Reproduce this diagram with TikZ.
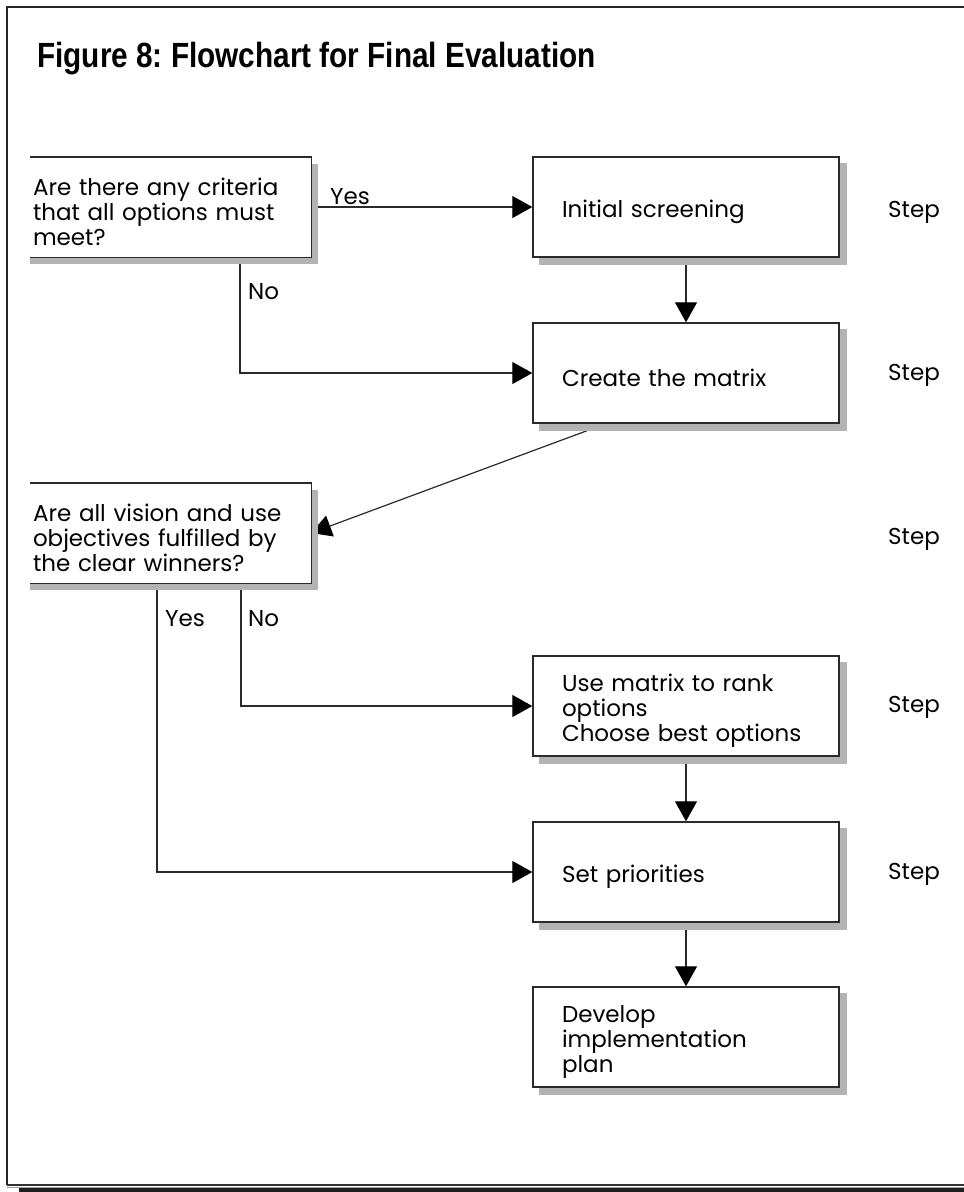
\documentclass[tikz,border=0pt]{standalone}
\usepackage{fontspec}
\setmainfont{Poppins}
\newfontfamily\titlefont[FakeStretch=0.85]{Liberation Sans}
\usetikzlibrary{arrows.meta}
\pgfdeclarelayer{bg}
\pgfdeclarelayer{shd}
\pgfsetlayers{bg,shd,main}
\definecolor{shadowgray}{HTML}{B3B3B3}
\definecolor{linegray}{HTML}{2A2A2A}
\tikzset{
  boxstyle/.style={rectangle, fill=white, draw=linegray, line width=1.4pt,
    minimum width=306pt, minimum height=100pt, inner xsep=29pt, inner ysep=0pt,
    text width=248pt, align=left, font=\fontsize{23}{25}\selectfont,
    execute at begin node={\rule{0pt}{27pt}}},
  cutbox/.style={rectangle, fill=white, draw=none,
    minimum width=281pt, minimum height=100pt, inner xsep=3pt, inner ysep=0pt,
    text width=275pt, align=left, font=\fontsize{23}{25}\selectfont,
    execute at begin node={\rule{0pt}{27pt}}},
  conn/.style={draw=linegray, line width=1.2pt},
  arr/.style={conn, -{Triangle[length=20pt,width=22pt,color=black]}},
  lbl/.style={font=\fontsize{23}{25}\selectfont, inner sep=0pt},
  steplbl/.style={font=\fontsize{23}{25}\selectfont, inner sep=0pt, anchor=west},
}
\begin{document}
\frenchspacing
\begin{tikzpicture}[x=1pt,y=-1pt]
\useasboundingbox (0,0) rectangle (964,1192);
% frame
\draw[line width=2pt, color=black!85] (7,1185) -- (7,7) -- (964,7);
\draw[line width=1.6pt, color=black!80] (7,1185) -- (964,1185);
\draw[line width=0.8pt, color=black!35] (7,1187) -- (964,1187);
\fill[black!88] (19,1188) rectangle (964,1192);
% title
\node[anchor=west, inner sep=0pt, font=\titlefont\bfseries\fontsize{35}{38}\selectfont] (title) at (37,59) {Figure 8: Flowchart for Final Evaluation};
% boxes
\node[cutbox] (b1) at (170.5,207) {Are there any criteria\\that all options must\\meet?};
\node[boxstyle] (b2) at (686,207) {Initial screening};
\node[boxstyle] (b3) at (686,373) {Create the matrix};
\node[cutbox] (b4) at (170.5,533) {Are all vision and use\\objectives fulfilled by\\the clear winners?};
\node[boxstyle] (b5) at (686,706) {Use matrix to rank\\options\\Choose best options};
\node[boxstyle] (b6) at (686,872) {Set priorities};
\node[boxstyle] (b7) at (686,1037) {Develop\\implementation\\plan};
% borders of cut boxes
\draw[draw=linegray, line width=1.4pt] (b1.north west) -- (b1.north east) -- (b1.south east) -- (b1.south west);
\draw[draw=linegray, line width=1.4pt] (b4.north west) -- (b4.north east) -- (b4.south east) -- (b4.south west);
% shadows
\begin{pgfonlayer}{shd}
\foreach \n in {b2,b3,b5,b6,b7}{
  \fill[shadowgray] ([shift={(7,7)}]\n.north west) rectangle ([shift={(7,7)}]\n.south east);
}
\foreach \n in {b1,b4}{
  \fill[shadowgray] ([shift={(0,7)}]\n.north west) rectangle ([shift={(7,7)}]\n.south east);
}
\end{pgfonlayer}
% helper coordinates
\coordinate (xno1) at (240,0);
\coordinate (xyes2) at (157,0);
\coordinate (xno2) at (241,0);
\coordinate (xdiag) at (587,0);
% connectors
\begin{pgfonlayer}{bg}
\draw[arr] (b1.east) -- (b2.west);
\draw[arr] (b2.south) -- (b3.north);
\draw[arr] (b1.south -| xno1) |- (b3.west);
\draw[arr] ([yshift=-7pt]b3.south -| xdiag) -- (b4.east);
\draw[arr] (b4.south -| xyes2) |- (b6.west);
\draw[arr] (b4.south -| xno2) |- (b5.west);
\draw[arr] (b5.south) -- (b6.north);
\draw[arr] (b6.south) -- (b7.north);
\end{pgfonlayer}
% labels
\node[lbl, anchor=west] (yes1) at (330,197) {Yes};
\node[lbl, anchor=west] (no1) at (248,292) {No};
\node[lbl, anchor=west] (yes2) at (165,619) {Yes};
\node[lbl, anchor=west] (no2) at (248,619) {No};
\node[steplbl] (s1) at (888,212) {Step};
\node[steplbl] (s2) at (888,375) {Step};
\node[steplbl] (s3) at (888,539) {Step};
\node[steplbl] (s4) at (888,707) {Step};
\node[steplbl] (s5) at (888,874) {Step};
\end{tikzpicture}
\end{document}
